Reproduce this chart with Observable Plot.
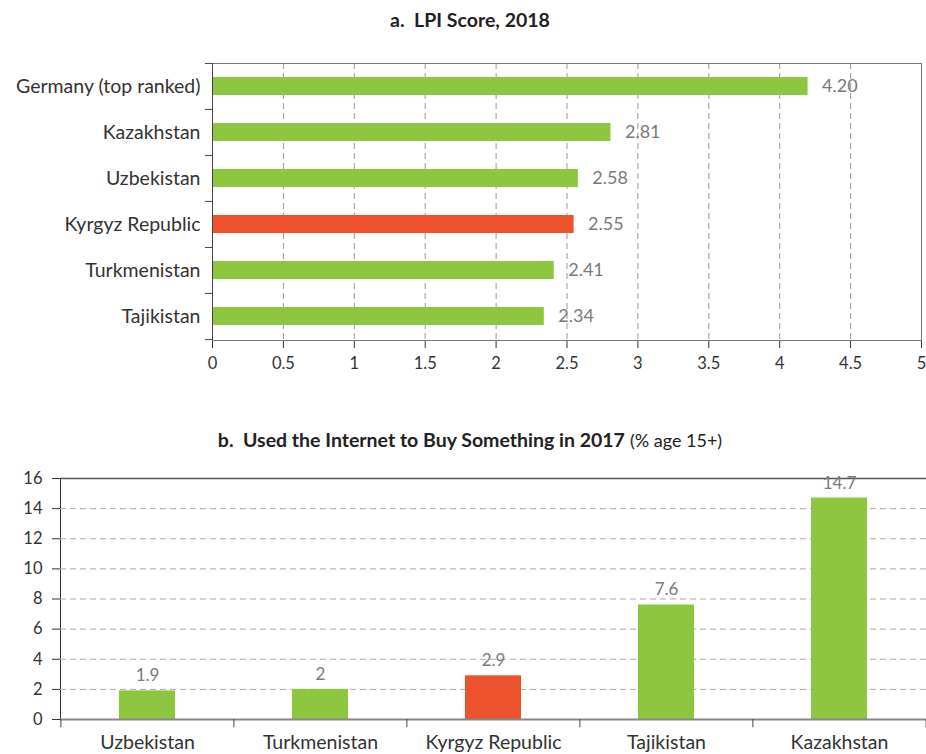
<!DOCTYPE html>
<html><head><meta charset="utf-8">
<script src="https://cdn.jsdelivr.net/npm/d3@7"></script>
<script src="https://cdn.jsdelivr.net/npm/@observablehq/plot@0.6"></script>
<style>
body{margin:0;background:#fff;font-family:Lato,"Open Sans",sans-serif;}
#wrap{position:relative;width:926px;height:754px;overflow:hidden;}
.title{position:absolute;left:0;width:940px;text-align:center;font-size:19.5px;color:#222;white-space:nowrap;}
.title b{font-weight:700;}
.title span{font-weight:400;font-size:18px;}
#top,#bottom{position:absolute;left:0;}
#top{top:40px;}
#bottom{top:460px;}
</style></head>
<body>
<div id="wrap">
  <div class="title" style="top:8px"><b>a.&nbsp; LPI Score, 2018</b></div>
  <div class="title" style="top:428px"><b>b.&nbsp; Used the Internet to Buy Something in 2017</b> <span>(% age 15+)</span></div>
  <div id="top"></div>
  <div id="bottom"></div>
</div>
<script>
// ---- Panel a data ----
const lpiCountries = ["Germany (top ranked)", "Kazakhstan", "Uzbekistan", "Kyrgyz Republic", "Turkmenistan", "Tajikistan"];
const lpiScores = [4.20, 2.81, 2.58, 2.55, 2.41, 2.34];
const lpiLabels = ["4.20", "2.81", "2.58", "2.55", "2.41", "2.34"];
const lpiTicks = [0, 0.5, 1, 1.5, 2, 2.5, 3, 3.5, 4, 4.5, 5];

// ---- Panel b data ----
const buyCountries = ["Uzbekistan", "Turkmenistan", "Kyrgyz Republic", "Tajikistan", "Kazakhstan"];
const buyValues = [1.9, 2, 2.9, 7.6, 14.7];
const buyLabels = ["1.9", "2", "2.9", "7.6", "14.7"];
const buyTicks = [0, 2, 4, 6, 8, 10, 12, 14, 16];

const highlight = "Kyrgyz Republic";
const GREEN = "#8DC63F", RED = "#EC532D";
const FONT = "Lato, 'Open Sans', sans-serif";

const lpiData = lpiCountries.map((c, i) => ({c, v: lpiScores[i], label: lpiLabels[i]}));
const buyData = buyCountries.map((c, i) => ({c, v: buyValues[i], label: buyLabels[i]}));

// half a band step in pixels for boundary ticks
const topStep = (340 - 63) / lpiCountries.length;
const botStep = (926 - 60) / buyCountries.length;

const topPlot = Plot.plot({
  width: 926, height: 345,
  marginTop: 23, marginBottom: 45, marginLeft: 212, marginRight: 5,
  style: {fontFamily: FONT, fontSize: "16.5px", color: "#333", background: "transparent"},
  x: {domain: [0, 5], ticks: lpiTicks, tickFormat: d => String(d), tickSize: 8, tickPadding: 9, label: null},
  y: {domain: lpiCountries, paddingInner: 0.6, paddingOuter: 0.3, tickSize: 0, tickPadding: 12, label: null},
  marks: [
    Plot.ruleX(lpiTicks.filter(t => t > 0 && t < 5), {stroke: "#999", strokeDasharray: "6,4"}),
    Plot.frame({stroke: "#777"}),
    Plot.barX(lpiData, {x: "v", y: "c", fill: d => d.c === highlight ? RED : GREEN}),
    Plot.text(lpiData, {x: "v", y: "c", text: "label", dx: 14, textAnchor: "start", fill: "#7a7a7a", fontSize: 18}),
    Plot.ruleX([0], {stroke: "#444"}),
    Plot.ruleY(lpiCountries, {y: d => d, x1: -0.05, x2: 0, dy: -topStep / 2, stroke: "#444"}),
    Plot.ruleY(lpiCountries.slice(-1), {y: d => d, x1: -0.05, x2: 0, dy: topStep / 2, stroke: "#444"})
  ]
});
topPlot.querySelectorAll("g[aria-label='y-axis tick label']").forEach(e => e.setAttribute("font-size", "19.5"));
document.getElementById("top").append(topPlot);

const botPlot = Plot.plot({
  width: 926, height: 294,
  marginTop: 18, marginBottom: 35, marginLeft: 60, marginRight: 0,
  style: {fontFamily: FONT, fontSize: "16.5px", color: "#333", background: "transparent"},
  x: {domain: buyCountries, paddingInner: 0.677, paddingOuter: 0.34, tickSize: 0, tickPadding: 16, label: null},
  y: {domain: [0, 16], ticks: buyTicks, tickSize: 8, tickPadding: 10, line: true, label: null},
  marks: [
    Plot.ruleY(buyTicks.filter(t => t > 0 && t < 16), {stroke: "#aaa", strokeDasharray: "6,4"}),
    Plot.ruleY([16], {stroke: "#555", strokeWidth: 1.5}),
    Plot.barY(buyData, {x: "c", y: "v", fill: d => d.c === highlight ? RED : GREEN}),
    Plot.text(buyData, {x: "c", y: "v", text: "label", dy: -15, fill: "#7a7a7a", fontSize: 17}),
    Plot.ruleY([0], {stroke: "#888", strokeWidth: 2}),
    Plot.ruleX(buyCountries, {x: d => d, y1: 0, y2: -0.55, dx: -botStep / 2, stroke: "#444"}),
    Plot.ruleX(buyCountries.slice(-1), {x: d => d, y1: 0, y2: -0.55, dx: botStep / 2, stroke: "#444"})
  ]
});
botPlot.querySelectorAll("g[aria-label='x-axis tick label']").forEach(e => e.setAttribute("font-size", "19.5"));
document.getElementById("bottom").append(botPlot);
</script>
</body></html>
